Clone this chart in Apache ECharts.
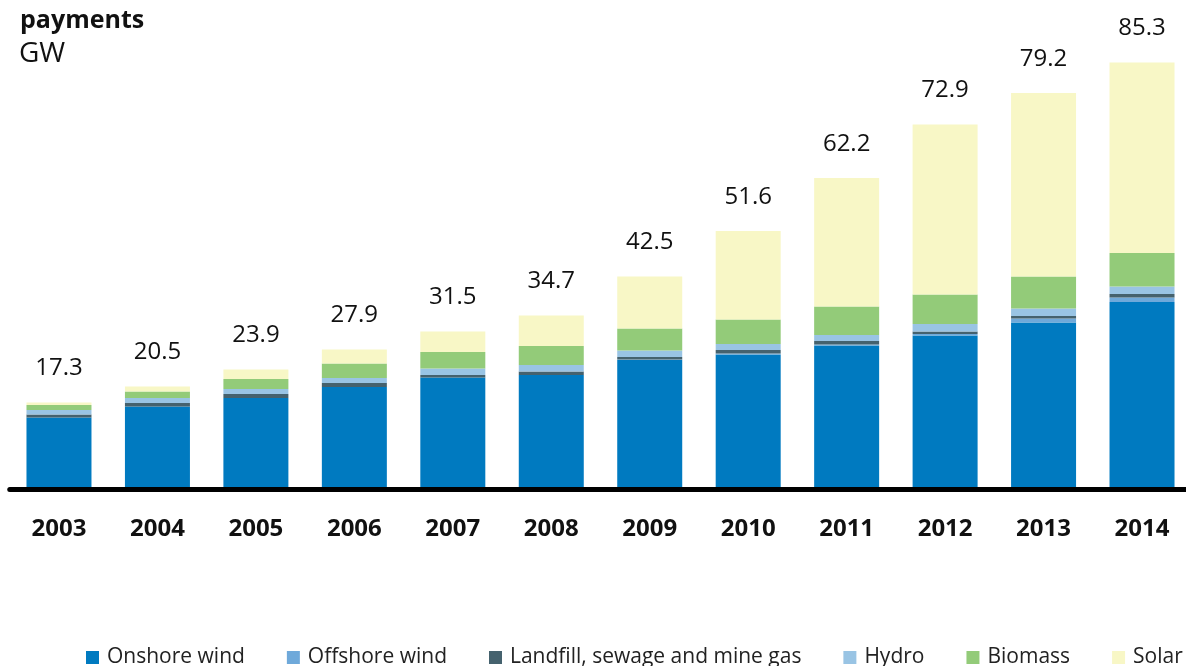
<!DOCTYPE html>
<html>
<head>
<meta charset="utf-8">
<title>Installed capacity receiving EEG payments</title>
<script src="https://cdn.jsdelivr.net/npm/echarts@6/dist/echarts.min.js"></script>
<style>
  html, body { margin: 0; padding: 0; background: #fff; }
  #chart { width: 1186px; height: 666px; }
</style>
</head>
<body>
<div id="chart"></div>
<script>
// Installed capacity (GW) by technology, 2003-2014
const years = ['2003', '2004', '2005', '2006', '2007', '2008', '2009', '2010', '2011', '2012', '2013', '2014'];
const onshoreWind  = [14.3, 16.5, 18.2, 20.4, 22.3, 22.8, 25.8, 26.9, 28.7, 30.7, 33.3, 37.4];
const offshoreWind = [0, 0, 0, 0, 0, 0, 0.1, 0.2, 0.2, 0.3, 0.8, 0.9];
const landfillGas  = [0.6, 0.7, 0.8, 0.8, 0.5, 0.7, 0.5, 0.7, 0.7, 0.5, 0.5, 0.7];
const hydro        = [0.9, 1.0, 1.0, 1.0, 1.3, 1.3, 1.3, 1.2, 1.2, 1.5, 1.5, 1.5];
const biomass      = [1.0, 1.3, 2.0, 2.9, 3.3, 3.8, 4.4, 4.9, 5.7, 5.9, 6.4, 6.7];
const solar        = [0.5, 1.0, 1.9, 2.8, 4.1, 6.1, 10.4, 17.7, 25.7, 34.0, 36.7, 38.1];

const seriesDefs = [
  { name: 'Onshore wind', data: onshoreWind, color: '#007ac0' },
  { name: 'Offshore wind', data: offshoreWind, color: '#6fa9da' },
  { name: 'Landfill, sewage and mine gas', data: landfillGas, color: '#45626e' },
  { name: 'Hydro', data: hydro, color: '#99c4e4' },
  { name: 'Biomass', data: biomass, color: '#93cb79' },
  { name: 'Solar', data: solar, color: '#f8f7c6' }
];

// total per year, shown above each stack
const totals = years.map((_, i) =>
  seriesDefs.reduce((s, d) => s + d.data[i], 0)
);

const FONT = '"Open Sans", "Noto Sans", sans-serif';

const chart = echarts.init(document.getElementById('chart'), null, { renderer: 'canvas' });

const series = seriesDefs.map((d, k) => {
  const s = {
    name: d.name,
    type: 'bar',
    stack: 'total',
    barWidth: 65,
    data: d.data,
    itemStyle: { color: d.color },
    emphasis: { disabled: true }
  };
  if (k === seriesDefs.length - 1) {
    s.label = {
      show: true,
      position: 'top',
      distance: 22,
      fontFamily: FONT,
      fontSize: 24,
      color: '#111',
      formatter: p => totals[p.dataIndex].toFixed(1)
    };
  }
  return s;
});

chart.setOption({
  animation: false,
  backgroundColor: '#fff',
  color: seriesDefs.map(d => d.color),
  title: [
    {
      text: 'payments',
      left: 20, top: 8, padding: 0,
      textStyle: { fontFamily: FONT, fontSize: 25, fontWeight: 'bold', color: '#111' }
    },
    {
      text: 'GW',
      left: 19, top: 40, padding: 0,
      textStyle: { fontFamily: FONT, fontSize: 28, fontWeight: 'normal', color: '#111' }
    }
  ],
  legend: {
    data: seriesDefs.map(d => d.name),
    left: 86,
    top: 647,
    width: 1400,
    padding: 0,
    icon: 'rect',
    itemWidth: 13,
    itemHeight: 13,
    itemGap: 42,
    textStyle: { fontFamily: FONT, fontSize: 21, color: '#222', padding: [0, 0, 0, 3] },
    selectedMode: false
  },
  grid: {
    left: 9.75,
    right: -5.25,
    top: 39,
    bottom: 177,
    containLabel: false,
    outerBoundsMode: 'none'
  },
  xAxis: {
    type: 'category',
    data: years,
    z: 10,
    axisTick: { show: false },
    axisLine: { show: true, lineStyle: { color: '#000', width: 5 } },
    axisLabel: {
      margin: 28,
      fontFamily: FONT,
      fontSize: 24,
      fontWeight: 'bold',
      color: '#111'
    }
  },
  yAxis: {
    type: 'value',
    min: 0,
    max: 90,
    interval: 10,
    show: false,
    splitLine: { show: false }
  },
  series: series
});
</script>
</body>
</html>
